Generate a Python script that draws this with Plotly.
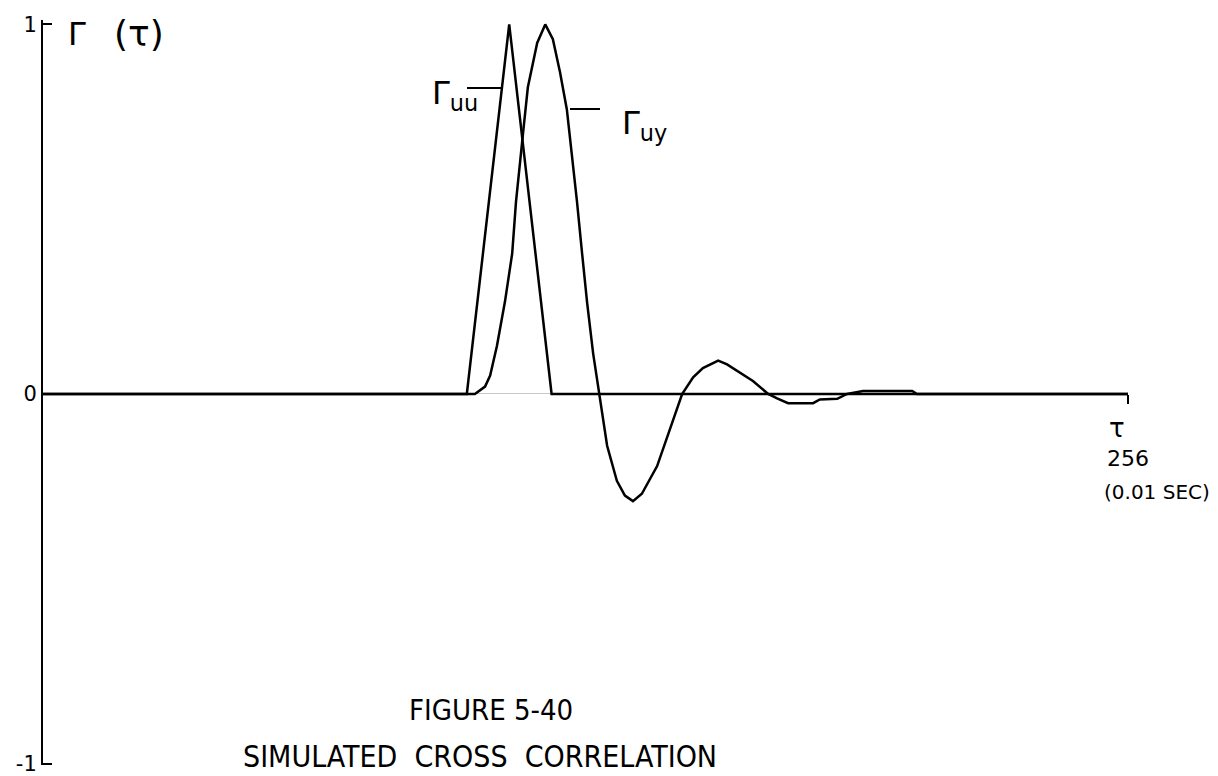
import plotly.graph_objects as go

# ---- data ----
ruu_tau = [0, 100, 110, 120, 256]
ruu_val = [0, 0, 1.0, 0, 0]

ruy_tau = [0, 101.9, 104.3, 105.5, 107.1, 109.0, 110.7, 111.6, 113.3, 114.4,
           116.6, 118.5, 120.3, 122.0, 123.6, 124.8, 126.0, 127.2, 128.4, 129.8,
           131.2, 133.1, 135.4, 137.3, 139.2, 141.3, 144.9, 147.9, 150.8, 153.4,
           155.7, 159.3, 161.4, 167.5, 171.1, 173.2, 175.8, 181.7, 183.3, 187.4,
           189.7, 193.5, 205.1, 206.2, 256]
ruy_val = [0, 0, 0.02, 0.05, 0.13, 0.25, 0.38, 0.52, 0.71, 0.83,
           0.95, 1.0, 0.96, 0.87, 0.77, 0.65, 0.52, 0.38, 0.245, 0.11,
           0, -0.14, -0.235, -0.275, -0.29, -0.27, -0.195, -0.095, 0, 0.045,
           0.07, 0.09, 0.08, 0.035, 0, -0.012, -0.025, -0.025, -0.015, -0.013,
           0, 0.008, 0.008, 0, 0]

y_tickvals = [-1, 0, 1]
y_ticktext = ["-1", "0", "1"]
x_end = 256

title_line1 = "FIGURE 5-40"
title_line2 = "SIMULATED&nbsp;&nbsp;CROSS&nbsp;&nbsp;CORRELATION"
y_label_sym = "Γ"
y_label_arg = "(τ)"
x_label_sym = "τ"
x_label_num = "256"
x_label_unit = "(0.01 SEC)"
ruu_label = "Γ<sub>uu</sub>"
ruy_label = "Γ<sub>uy</sub>"

hand_font = "DejaVu Sans, Noto Sans, sans-serif"
narrow_font = "Liberation Sans Narrow, DejaVu Sans Condensed, Arial Narrow, Roboto, sans-serif"

fig = go.Figure()
fig.add_trace(go.Scatter(x=ruu_tau, y=ruu_val, mode="lines",
                         line=dict(color="black", width=2.5), name="Ruu",
                         showlegend=False))
fig.add_trace(go.Scatter(x=ruy_tau, y=ruy_val, mode="lines",
                         line=dict(color="black", width=2.5), name="Ruy",
                         showlegend=False))
# invisible trace that carries the overlay axis (upper half of the end tick)
fig.add_trace(go.Scatter(x=[x_end], y=[0], xaxis="x2", mode="markers",
                         marker=dict(opacity=0), showlegend=False, hoverinfo="skip"))

y_lo, y_hi = -1.004, 1.012
zero_pos = (0 - y_lo) / (y_hi - y_lo)

# page has an 8px body margin: figure starts at (8, 8)
fig.update_layout(
    width=1210, height=768,
    margin=dict(l=35, r=90, t=12, b=11, autoexpand=False),
    paper_bgcolor="white", plot_bgcolor="white",
    xaxis=dict(range=[0, 256], showgrid=False, zeroline=False, showline=False,
               tickvals=[x_end], ticks="outside", ticklen=9, tickwidth=2,
               tickcolor="black", showticklabels=False, automargin=False,
               anchor="free", position=zero_pos),
    xaxis2=dict(range=[0, 256], overlaying="x", showgrid=False, zeroline=False,
                showline=False, tickvals=[x_end], ticks="inside", ticklen=9,
                tickwidth=2, tickcolor="black", showticklabels=False,
                automargin=False, anchor="free", position=zero_pos),
    yaxis=dict(range=[y_lo, y_hi], showgrid=False, zeroline=True,
               zerolinecolor="#c8c8c8", zerolinewidth=1, automargin=False,
               showline=True, linecolor="black", linewidth=2,
               tickvals=y_tickvals, ticktext=y_ticktext, ticks="inside",
               ticklen=9, tickwidth=2, tickcolor="black",
               tickfont=dict(family=hand_font, size=21, color="black")),
    font=dict(family=hand_font, color="black"),
)

PW, PH = 1085, 745  # plot area size in pixels; plot area top-left at page (43, 20)


def px(x):
    return (x - 43) / PW


def py(y):
    return 1 - (y - 20) / PH


annotations = [
    dict(text=y_label_sym, xref="paper", yref="paper", x=px(77), y=py(34),
         xanchor="center", yanchor="middle", showarrow=False,
         font=dict(size=32, family=hand_font)),
    dict(text=y_label_arg, xref="paper", yref="paper", x=px(139), y=py(34),
         xanchor="center", yanchor="middle", showarrow=False,
         font=dict(size=36, family=hand_font)),
    dict(text=ruu_label, xref="paper", yref="paper", x=px(455), y=py(95),
         xanchor="center", yanchor="middle", showarrow=False,
         font=dict(size=32, family=hand_font)),
    dict(text=ruy_label, xref="paper", yref="paper", x=px(644), y=py(125),
         xanchor="center", yanchor="middle", showarrow=False,
         font=dict(size=32, family=hand_font)),
    dict(text=x_label_sym, xref="paper", yref="paper", x=px(1117), y=py(428),
         xanchor="center", yanchor="middle", showarrow=False,
         font=dict(size=26, family=hand_font)),
    dict(text=x_label_num, xref="paper", yref="paper", x=px(1128), y=py(459),
         xanchor="center", yanchor="middle", showarrow=False,
         font=dict(size=22, family=hand_font)),
    dict(text=x_label_unit, xref="paper", yref="paper", x=px(1157), y=py(492),
         xanchor="center", yanchor="middle", showarrow=False,
         font=dict(size=20, family=hand_font)),
    dict(text=title_line1, xref="paper", yref="paper", x=px(491), y=py(710),
         xanchor="center", yanchor="middle", showarrow=False,
         font=dict(size=29, family=narrow_font)),
    dict(text=title_line2, xref="paper", yref="paper", x=px(480), y=py(756),
         xanchor="center", yanchor="middle", showarrow=False,
         font=dict(size=30, family=narrow_font)),
]
fig.update_layout(annotations=annotations)

shapes = [
    dict(type="line", xref="paper", yref="paper",
         x0=px(467), x1=px(502), y0=py(88), y1=py(88),
         line=dict(color="black", width=2)),
    dict(type="line", xref="paper", yref="paper",
         x0=px(570), x1=px(600), y0=py(109), y1=py(109),
         line=dict(color="black", width=2)),
]
fig.update_layout(shapes=shapes)

fig.write_html("out.html")
